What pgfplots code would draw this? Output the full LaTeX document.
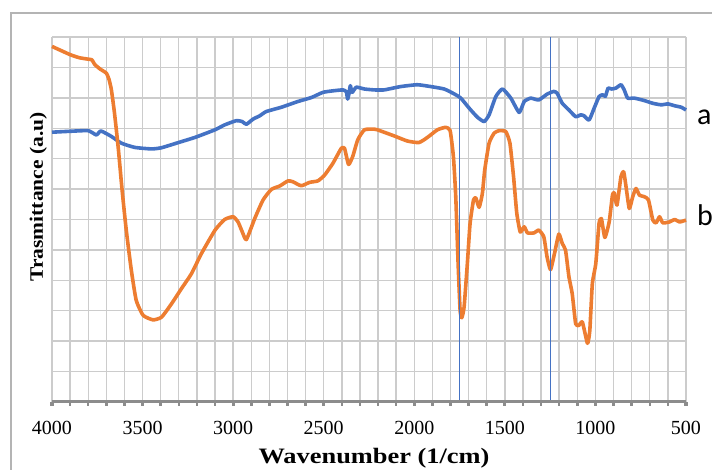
\documentclass[border=0pt]{standalone}
\usepackage{fontspec}
\setmainfont{Liberation Serif}
\newfontfamily\calib{Carlito}
\usepackage{graphicx}
\usepackage{pgfplots}
\pgfplotsset{compat=1.18}
\definecolor{seriesA}{HTML}{4472C4}
\definecolor{seriesB}{HTML}{ED7D31}
\definecolor{gridgray}{HTML}{CCCCCC}
\definecolor{axisgray}{HTML}{8C8C8C}
\definecolor{framegray}{HTML}{B4B4B4}

\begin{document}
\begin{tikzpicture}
\begin{axis}[
    at={(0,0)}, anchor=south west,
    scale only axis,
    width=634pt, height=365pt,
    x dir=reverse,
    xmin=500, xmax=4000,
    ymin=0, ymax=12,
    xtick={500,1000,...,4000},
    minor x tick num=4,
    ytick={0,1,...,12},
    yticklabels={},
    xtick pos=bottom,
    tick align=outside,
    major tick length=4pt,
    minor tick length=4pt,
    every major tick/.append style={axisgray, line width=3.2pt},
    every minor tick/.append style={axisgray, line width=2.5pt},
    ytick style={draw=none},
    xmajorgrids, xminorgrids, ymajorgrids,
    grid style={gridgray, line width=1.4pt},
    minor grid style={gridgray, line width=1.4pt},
    axis line style={draw=none},
    /pgf/number format/1000 sep={},
    /pgf/number format/assume math mode=true,
    xticklabel style={font=\fontsize{20}{24}\selectfont, anchor=base, yshift=-29pt},
    clip=false,
]
% sample a
\addplot[seriesA, line width=3.6pt, line join=round, smooth, tension=0.3] coordinates {
(4000,8.87) (3900,8.90) (3800,8.92) (3755,8.78) (3730,8.91) (3672,8.73) (3617,8.51)
(3543,8.37) (3450,8.32) (3395,8.36) (3302,8.53) (3210,8.70) (3100,8.95) (3047,9.11)
(2982,9.25) (2950,9.22) (2927,9.13) (2890,9.30) (2853,9.41) (2817,9.55) (2734,9.69)
(2642,9.88) (2568,10.01) (2504,10.18) (2449,10.23) (2394,10.26) (2375,10.20) (2368,9.96)
(2360,10.15) (2353,10.40) (2343,10.18) (2320,10.35) (2275,10.29) (2220,10.26) (2167,10.26)
(2075,10.37) (1983,10.43) (1909,10.37) (1835,10.29) (1780,10.13) (1743,9.99) (1697,9.66)
(1651,9.36) (1614,9.22) (1587,9.44) (1550,10.04) (1513,10.29) (1467,9.99) (1421,9.52)
(1393,9.88) (1357,9.99) (1313,9.93) (1267,10.12) (1230,10.21) (1211,10.15) (1183,9.82)
(1146,9.60) (1109,9.38) (1081,9.44) (1063,9.41) (1035,9.27) (1007,9.66) (980,10.04)
(961,10.10) (945,10.05) (930,10.32) (911,10.29) (887,10.32) (859,10.43) (841,10.26)
(822,9.99) (785,9.99) (730,9.91) (683,9.82) (637,9.77) (600,9.80) (563,9.74)
(526,9.69) (500,9.60)
};
% sample b
\addplot[seriesB, line width=3.6pt, line join=round, smooth, tension=0.3] coordinates {
(4000,11.69) (3900,11.42) (3850,11.32) (3800,11.27) (3780,11.25) (3763,11.09) (3735,10.95)
(3700,10.81) (3685,10.6) (3672,10.26) (3655,9.5) (3635,8.4) (3613,6.97) (3590,5.65)
(3562,4.33) (3535,3.34) (3497,2.85) (3442,2.70) (3395,2.79) (3340,3.23) (3285,3.73)
(3230,4.22) (3175,4.88) (3100,5.65) (3047,6.0) (3000,6.09) (2973,5.92) (2950,5.6)
(2927,5.34) (2881,6.03) (2835,6.64) (2789,6.99) (2743,7.10) (2697,7.27) (2670,7.24)
(2624,7.11) (2578,7.22) (2532,7.27) (2495,7.46) (2449,7.85) (2403,8.34) (2385,8.34)
(2363,7.81) (2340,8.07) (2312,8.62) (2275,8.95) (2220,8.97) (2204,8.95) (2112,8.75)
(2038,8.58) (1974,8.53) (1927,8.70) (1872,8.95) (1826,9.03) (1802,8.92) (1784,8.07)
(1771,6.75) (1758,4.55) (1747,3.01) (1738,2.77) (1725,3.12) (1707,4.55) (1692,5.87)
(1673,6.64) (1660,6.71) (1642,6.40) (1624,6.86) (1611,7.63) (1587,8.51) (1559,8.84)
(1532,8.92) (1495,8.89) (1472,8.51) (1452,7.41) (1434,6.20) (1415,5.59) (1393,5.76)
(1375,5.56) (1338,5.56) (1313,5.65) (1285,5.43) (1267,4.77) (1248,4.35) (1226,4.88)
(1202,5.52) (1183,5.21) (1165,4.99) (1146,4.11) (1128,3.56) (1109,2.57) (1091,2.52)
(1072,2.63) (1044,1.93) (1031,2.35) (1017,3.89) (998,4.55) (980,5.87) (967,6.03)
(948,5.41) (924,5.92) (906,6.80) (896,6.88) (881,6.47) (859,7.41) (844,7.57)
(831,7.08) (813,6.36) (794,6.75) (776,7.02) (757,6.80) (730,6.75) (707,6.64)
(683,5.98) (665,5.89) (646,6.09) (628,5.89) (591,5.92) (563,6.0) (535,5.92)
(500,5.98)
};
% marker lines
\addplot[seriesA, line width=0.9pt] coordinates {(1750,0) (1750,12)};
\addplot[seriesA, line width=0.9pt] coordinates {(1250,0) (1250,12)};
% bottom axis line
\draw[axisgray, line width=3pt] (rel axis cs:0,0) -- (rel axis cs:1,0);
\end{axis}
% outer frame (partly cut off)
\draw[framegray, line width=1.5pt] (-41pt,-70pt) -- (-41pt,389pt) -- (662pt,389pt);
% labels
\node[anchor=base west, inner sep=0pt, font=\calib\fontsize{30}{34}\selectfont] at (645pt,277pt) {a};
\node[anchor=base west, inner sep=0pt, font=\calib\fontsize{30}{34}\selectfont] at (645pt,176pt) {b};
\node[anchor=base, inner sep=0pt, font=\bfseries\fontsize{22}{26}\selectfont] at (322pt,-62pt)
    {\scalebox{1.2}[1]{Wavenumber (1/cm)}};
\node[anchor=base, inner sep=0pt, rotate=90, font=\bfseries\fontsize{19}{23}\selectfont] at (-9pt,205pt)
    {\scalebox{1.13}[1]{Trasmittance (a.u)}};
\pgfresetboundingbox
\useasboundingbox (-52pt,-68pt) rectangle (660pt,402pt);
\end{tikzpicture}
\end{document}
